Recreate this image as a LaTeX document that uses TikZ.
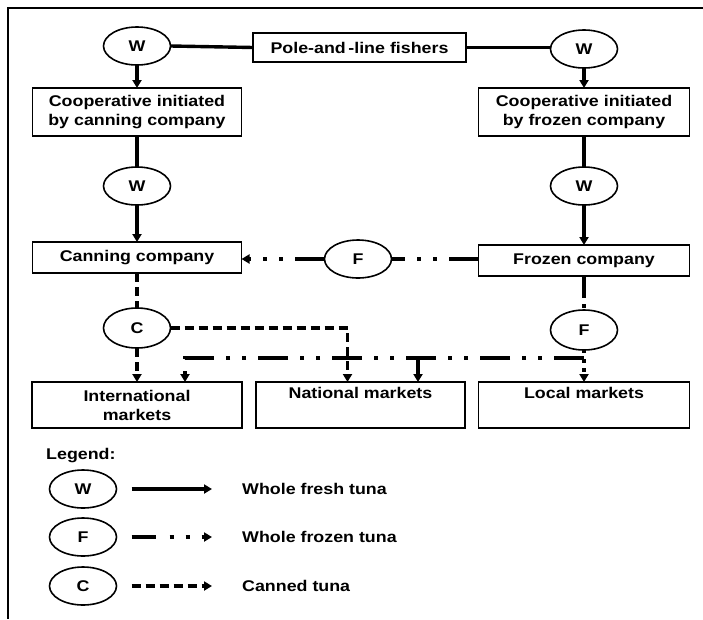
\documentclass[tikz,border=0pt]{standalone}
\usepackage{fontspec}
\newfontfamily\tunafont{Liberation Sans}[FakeStretch=1.15]
\usetikzlibrary{arrows.meta,positioning,shapes.geometric}

\begin{document}
\begin{tikzpicture}[
  x=1pt, y=-1pt,
  box/.style={rectangle, draw, line width=1.8pt, minimum width=209pt,
              minimum height=31pt, inner sep=3pt, outer sep=0pt, align=center,
              font=\tunafont\bfseries\fontsize{15.5}{19}\selectfont},
  tuna/.style={ellipse, draw, line width=1.6pt, minimum width=67pt,
               minimum height=38pt, inner sep=0pt, outer sep=0pt,
               font=\tunafont\bfseries\fontsize{15.5}{19}\selectfont},
  lbl/.style={inner sep=0pt, anchor=west,
              font=\tunafont\bfseries\fontsize{15.5}{19}\selectfont},
  arr/.style={-{Triangle[length=8pt,width=9pt]}},
  freshline/.style={line width=3.4pt},
  frozenline/.style={line width=3.2pt,
                     dash pattern=on 30pt off 12pt on 4pt off 12pt on 4pt off 12pt},
  cannedline/.style={line width=3.2pt, dash pattern=on 9pt off 5pt}
]
\useasboundingbox (0,0) rectangle (703,619);
\draw[line width=1.4pt] (703,8) -- (8,8) -- (8,619);

% top row
\node[box, minimum width=213pt, minimum height=29pt] (fish) at (359.5,47.5)
  {Pole-and\,-line fishers};
\node[tuna] (wtl) at (137,46) {W};
\node[tuna] (wtr) at (584,49) {W};

% canning side
\node[box, minimum height=48pt, below=23pt of wtl] (coopc)
  {Cooperative initiated\\by canning company};
\node[tuna, below=31pt of coopc] (wml) {W};
\node[box, below=37pt of wml] (canningco) {Canning company};
\node[tuna, minimum height=40pt, below=35pt of canningco] (cl) {C};

% frozen side
\node[box, minimum width=211pt, minimum height=48pt, below=20pt of wtr] (coopf)
  {Cooperative initiated\\by frozen company};
\node[tuna, below=31pt of coopf] (wmr) {W};
\node[box, minimum width=211pt, below=40pt of wmr] (frozenco) {Frozen company};
\node[tuna, minimum height=40pt, below=34pt of frozenco] (fr) {F};
\node[tuna] (fmid) at (358,259) {F};

% markets
\node[box, minimum width=210pt, minimum height=46pt, below=34pt of cl] (intl)
  {International\\markets};
\node[box, minimum height=46pt, text height=12pt, text depth=26pt,
      right=14pt of intl] (nat) {National markets};
\node[box, minimum width=211pt, minimum height=46pt, text height=12pt,
      text depth=26pt, below=32pt of fr] (loc) {Local markets};

\coordinate (fsplit) at (584,358);
\coordinate (ftee) at (418,358);

\draw[freshline] (fish.west) -- (wtl.east);
\draw[freshline] (fish.east) -- (fish.east -| wtr.west);
\draw[freshline, arr] (wtl) -- (coopc);
\draw[freshline, arr] (wtr) -- (coopf);
\draw[freshline] (coopc) -- (wml);
\draw[freshline, arr] (wml) -- (canningco);
\draw[freshline] (coopf) -- (wmr);
\draw[freshline, arr] (wmr) -- (frozenco);

\draw[frozenline] (frozenco.west |- fmid.east) -- (fmid.east);
\draw[frozenline, arr] (fmid.west) -- (fmid.west -| canningco.east);
\draw[frozenline, dash pattern=on 22pt off 6pt on 4pt off 20pt] (frozenco) -- (fr);
\draw[frozenline, dash pattern=on 3pt off 6pt on 4pt off 5pt on 4pt off 20pt, arr]
  (fr) -- (loc);
\draw[frozenline, arr] (fsplit) -| ([xshift=48pt]intl.north);
\draw[frozenline, arr] (ftee) -- (ftee |- nat.north);

\draw[cannedline] (canningco) -- (cl);
\draw[cannedline, arr] (cl) -- (intl);
\draw[cannedline, arr] (cl.east) -| ([xshift=-13pt]nat.north);

% legend
\node[lbl] (legend) at (46,456) {Legend:};
\node[tuna] (lw) at (83,489) {W};
\node[tuna] (lf) at (83,537) {F};
\node[tuna] (lc) at (83,586) {C};
\node[lbl] (tw) at (242,489) {Whole fresh tuna};
\node[lbl] (tf) at (242,537) {Whole frozen tuna};
\node[lbl] (tc) at (242,586) {Canned tuna};

\draw[freshline, arr] ([xshift=15pt]lw.east) -- ([xshift=-30pt]tw.west);
\draw[frozenline, dash pattern=on 24pt off 14pt on 4pt off 12pt on 4pt off 12pt, arr]
  ([xshift=15pt]lf.east) -- ([xshift=-30pt]tf.west);
\draw[cannedline, arr] ([xshift=15pt]lc.east) -- ([xshift=-30pt]tc.west);
\end{tikzpicture}
\end{document}
